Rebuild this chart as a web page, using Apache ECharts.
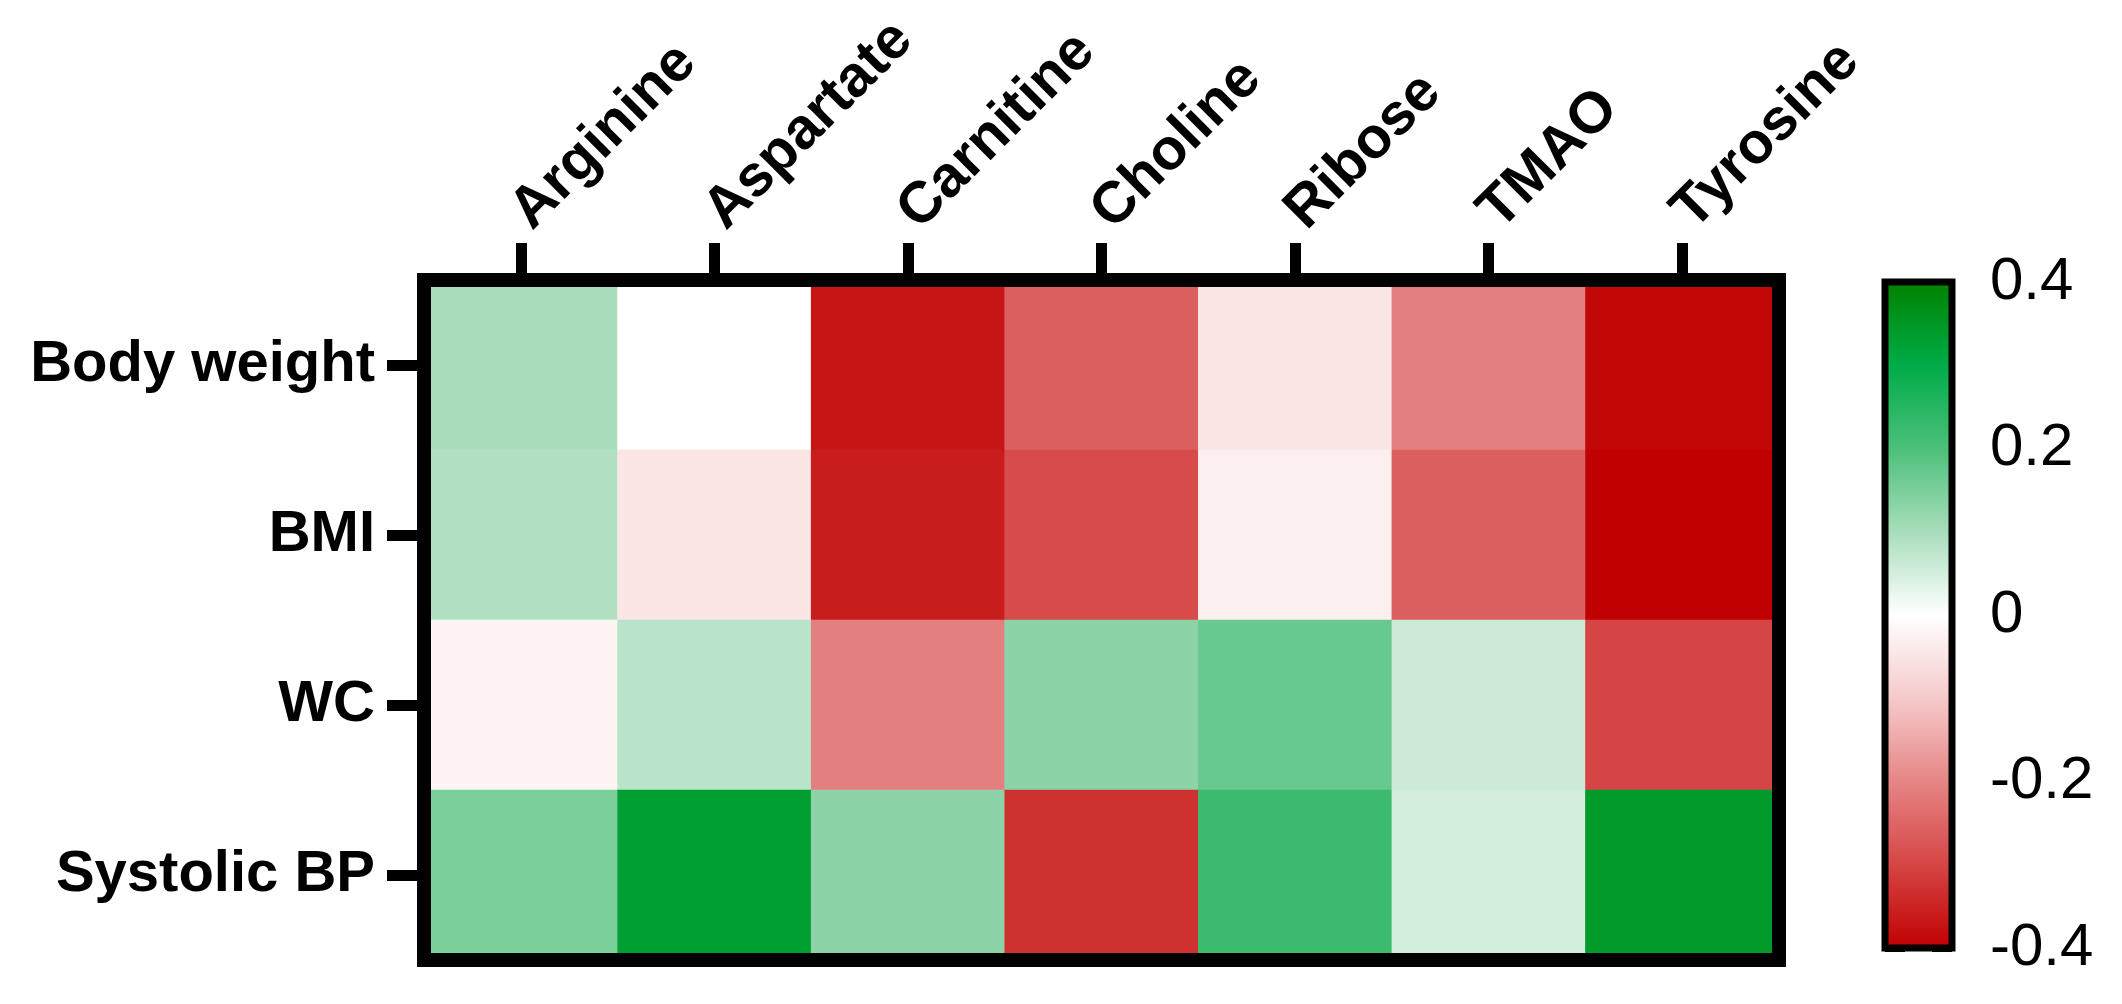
<!DOCTYPE html>
<html>
<head>
<meta charset="utf-8">
<script src="https://cdn.jsdelivr.net/npm/echarts@6/dist/echarts.min.js"></script>
<style>
html,body{margin:0;padding:0;background:#fff;}
#chart{width:2122px;height:1004px;}
</style>
</head>
<body>
<div id="chart"></div>
<script>
const metabolites = ['Arginine','Aspartate','Carnitine','Choline','Ribose','TMAO','Tyrosine'];
const measures = ['Body weight','BMI','WC','Systolic BP'];
const bodyWeight = [0.10, 0.00, -0.37, -0.26, -0.05, -0.21, -0.39];
const bmi        = [0.09, -0.05, -0.36, -0.29, -0.03, -0.26, -0.40];
const wc         = [-0.02, 0.08, -0.21, 0.13, 0.17, 0.06, -0.30];
const systolicBP = [0.15, 0.33, 0.13, -0.33, 0.22, 0.05, 0.34];
const scaleTicks = [-0.4, -0.2, 0, 0.2, 0.4];
const scaleTickLabels = ['-0.4', '-0.2', '0', '0.2', '0.4'];
const palette = ['#C00000','#D64545','#E68585','#F6CACA','#FFFFFF','#A8DDBB','#4CC07A','#00AC48','#008200'];

const rows = [bodyWeight, bmi, wc, systolicBP];
const cells = [];
rows.forEach((r, yi) => r.forEach((v, xi) => cells.push([xi, yi, v])));

const chart = echarts.init(document.getElementById('chart'), null, {renderer: 'canvas'});
const FONT = 'Liberation Sans, Arial, sans-serif';
chart.setOption({
  backgroundColor: '#fff',
  animation: false,
  grid: [
    {left: 424, top: 280, width: 1355, height: 680, show: true, borderColor: '#000', borderWidth: 14, backgroundColor: 'transparent', z: 10},
    {left: 1885, top: 282, width: 67, height: 666, show: true, borderColor: '#000', borderWidth: 7, backgroundColor: 'transparent', z: 10}
  ],
  xAxis: [
    {type: 'category', gridIndex: 0, position: 'top', data: metabolites,
     axisLine: {show: false},
     axisTick: {show: true, alignWithLabel: true, length: 37, lineStyle: {color: '#000', width: 11}},
     axisLabel: {rotate: -45, margin: 60, fontSize: 58, fontWeight: 'bold', color: '#000', fontFamily: FONT},
     splitLine: {show: false}},
    {type: 'category', gridIndex: 1, data: [''], show: false}
  ],
  yAxis: [
    {type: 'category', gridIndex: 0, data: measures, inverse: true,
     axisLine: {show: false},
     axisTick: {show: true, alignWithLabel: true, length: 37, lineStyle: {color: '#000', width: 11}},
     axisLabel: {margin: 49, fontSize: 58, fontWeight: 'bold', color: '#000', fontFamily: FONT},
     splitLine: {show: false}},
    {type: 'value', gridIndex: 1, position: 'right', min: -0.4, max: 0.4, interval: 0.2,
     axisLine: {show: false},
     axisTick: {show: true, inside: true, length: 20, lineStyle: {color: '#000', width: 7}},
     axisLabel: {margin: 38, fontSize: 60, color: '#000', fontFamily: FONT,
       formatter: function (v) { const i = scaleTicks.findIndex(t => Math.abs(t - v) < 1e-9); return i >= 0 ? scaleTickLabels[i] : ''; }},
     splitLine: {show: false}},
    {type: 'value', gridIndex: 1, position: 'left', min: -0.4, max: 0.4, interval: 0.2,
     axisLine: {show: false},
     axisTick: {show: true, inside: true, length: 20, lineStyle: {color: '#000', width: 7}},
     axisLabel: {show: false},
     splitLine: {show: false}}
  ],
  visualMap: {
    type: 'continuous', min: -0.4, max: 0.4, calculable: false, show: true,
    orient: 'vertical', left: 1885, top: 282, itemWidth: 67, itemHeight: 666,
    padding: 0, text: null, seriesIndex: 0, hoverLink: false,
    inRange: {color: palette}
  },
  series: [{
    type: 'heatmap', xAxisIndex: 0, yAxisIndex: 0, data: cells,
    itemStyle: {borderWidth: 0},
    emphasis: {disabled: true},
    label: {show: false}
  }]
});
</script>
</body>
</html>
